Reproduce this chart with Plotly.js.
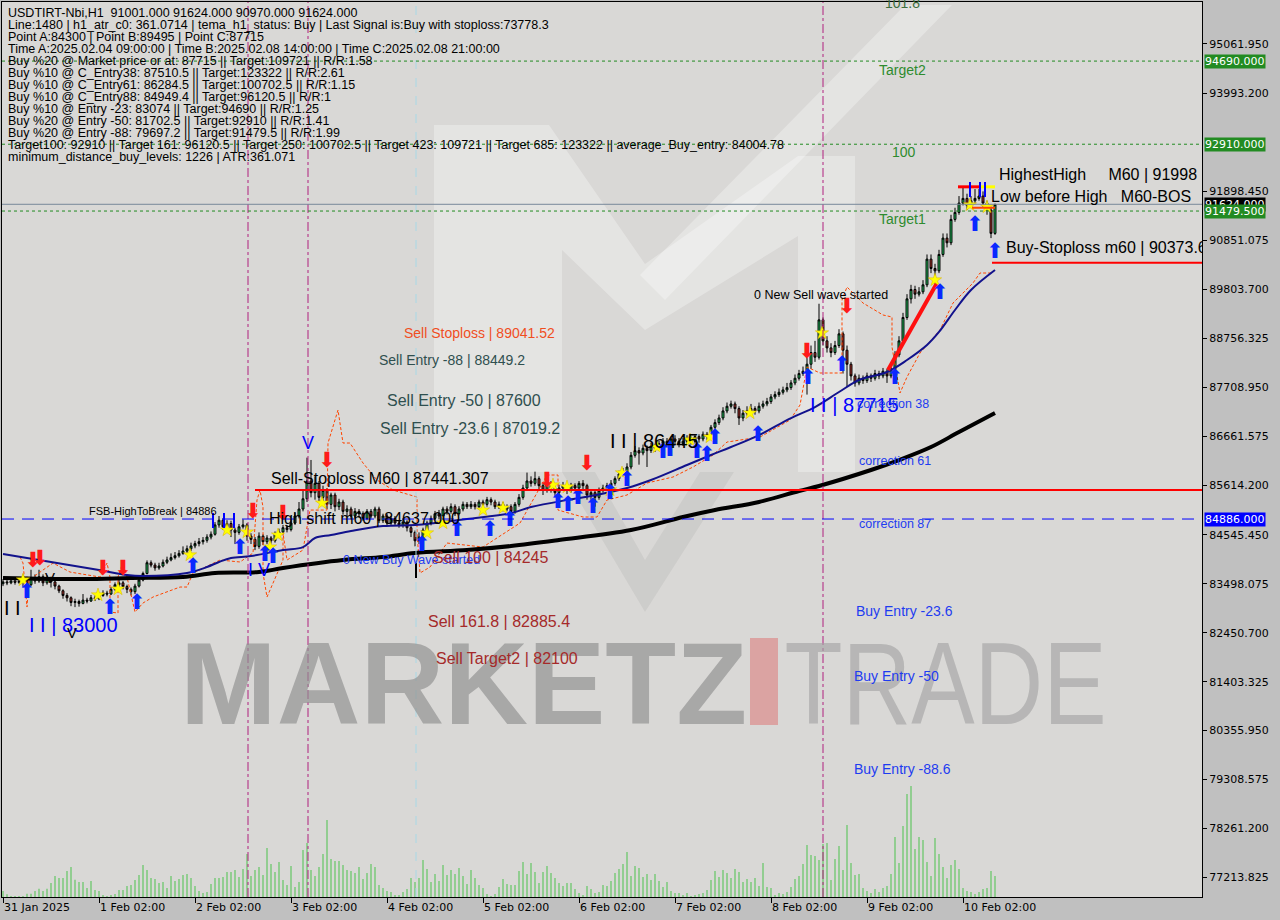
<!DOCTYPE html>
<html><head><meta charset="utf-8">
<script src="https://cdn.plot.ly/plotly-3.0.1.min.js"></script>
<style>body{margin:0;background:#c0c0c0;}#chart{width:1280px;height:920px;}</style>
</head><body><div id="chart"></div>
<script>
// ---------- DATA ----------
const firstOpen = 83500;
const closes = [
83540,83520,83560,83530,83550,83600,83480,83620,83560,83650,
83520,83600,83540,83450,83350,83250,83200,83100,83120,83080,
83150,83130,83200,83180,83250,83300,83280,83380,83480,83520,
83440,83380,83330,83450,83580,83720,83950,83900,83840,83880,
83960,84010,84060,84100,84150,84200,84250,84310,84360,84400,
84430,84500,84560,84760,84860,84720,84790,84650,84600,84720,
84760,84520,84450,84300,84520,84400,84480,84420,84560,84610,
84700,84660,84800,84950,85100,85320,85700,85450,85650,85350,
85500,85200,85400,85150,85250,85050,85100,84950,85050,85000,
84900,85050,84950,85100,84850,84950,84800,84900,84800,84750,
84820,84700,84600,84420,84500,84650,84800,84900,85000,84950,
85100,85050,85150,85000,85100,85200,85150,85200,85150,85250,
85200,85300,85250,85150,85200,85100,85150,85050,85200,85350,
85550,85700,85650,85750,85600,85500,85650,85550,85450,85550,
85600,85500,85600,85550,85650,85600,85400,85450,85350,85500,
85550,85600,85650,85750,85850,85900,86000,86250,86350,86300,
86400,86350,86450,86400,86500,86550,86500,86600,86550,86500,
86550,86600,86550,86650,86600,86700,86650,86850,86950,87050,
87200,87300,87350,87250,87050,87150,87200,87250,87200,87300,
87350,87400,87500,87550,87600,87650,87700,87800,87900,88000,
88050,88200,88450,88350,89150,88700,88550,88450,88600,88850,
88500,88200,87950,87800,87900,87850,87950,87900,88000,87950,
88050,87950,88100,88400,88700,89200,89600,89800,89700,89750,
89900,90450,90250,90200,90550,90900,90800,91300,91450,91650,
91750,91600,91700,91750,91800,91650,91500,91001,91624];
const highs = [
83600,83580,83620,83600,83620,83700,83650,83800,83700,83800,
83700,83680,83650,83580,83480,83380,83300,83230,83180,83160,
83280,83200,83260,83250,83300,83360,83350,83430,83530,83620,
83560,83480,83420,83500,83620,83760,84000,84000,83950,83950,
84020,84080,84150,84180,84220,84300,84320,84380,84420,84480,
84500,84560,84620,84820,84950,84900,84860,84850,84700,84780,
84880,84800,84580,84500,84600,84560,84540,84520,84620,84680,
84760,84750,84880,85020,85250,85500,86200,86150,85800,85700,
85600,85550,85450,85450,85320,85300,85180,85150,85120,85100,
85050,85100,85100,85150,85150,85000,85000,84950,84950,84850,
84880,84860,84740,84640,84600,84700,84850,84960,85060,85080,
85150,85160,85220,85200,85160,85260,85250,85270,85250,85300,
85300,85360,85350,85300,85260,85250,85200,85200,85250,85420,
85620,85880,85800,85900,85800,85650,85720,85700,85600,85620,
85680,85650,85660,85650,85700,85720,85640,85520,85500,85560,
85620,85660,85720,85800,85920,85980,86080,86320,86450,86420,
86480,86460,86520,86500,86560,86620,86620,86650,86680,86620,
86620,86680,86650,86700,86700,86760,86750,86900,87020,87120,
87280,87380,87420,87400,87300,87220,87300,87350,87300,87380,
87420,87480,87560,87620,87680,87720,87800,87860,87980,88080,
88150,88350,88600,88700,89495,89200,88800,88650,88700,88950,
88900,88600,88250,88000,87980,87960,88020,88000,88080,88060,
88120,88100,88200,88480,88800,89300,89700,89900,89880,89850,
90000,90550,90550,90350,90650,91000,91000,91400,91550,91800,
91998,91850,91800,91950,91950,91900,91700,91550,91624];
const lows = [
83450,83470,83490,83480,83500,83420,83350,83450,83500,83520,
83450,83480,83420,83380,83300,83180,83120,83020,83000,83010,
83060,83080,83110,83130,83150,83220,83230,83260,83350,83440,
83380,83300,83250,83280,83420,83550,83700,83850,83780,83800,
83850,83920,83980,84020,84060,84120,84150,84200,84260,84300,
84340,84380,84450,84530,84700,84650,84680,84500,84350,84550,
84680,84420,84350,84220,84250,84330,84350,84360,84380,84500,
84560,84600,84620,84760,84900,85050,85250,85350,85300,85250,
85200,85100,85100,85050,85080,84980,84950,84880,84900,84920,
84850,84860,84900,84900,84800,84800,84750,84760,84750,84700,
84700,84620,84500,84300,84350,84450,84600,84750,84860,84880,
84900,84980,85000,84950,84960,85050,85100,85100,85090,85100,
85140,85150,85180,85100,85100,85050,85050,84980,85000,85150,
85300,85500,85580,85600,85500,85400,85450,85450,85350,85400,
85500,85420,85450,85480,85500,85520,85300,85280,85150,85300,
85450,85500,85560,85600,85700,85800,85850,85950,86200,86050,
86250,86000,86300,86320,86350,86450,86430,86450,86480,86420,
86450,86500,86480,86500,86520,86550,86580,86620,86800,86900,
87000,87150,87250,87150,86900,86980,87100,87150,87120,87150,
87250,87300,87350,87450,87500,87550,87600,87650,87750,87850,
87950,87550,88100,88250,88300,88600,88450,88350,88400,88550,
88000,87715,87850,87720,87750,87780,87800,87820,87850,87880,
87900,87800,87900,88050,88350,88650,89150,89500,89600,89650,
89700,89850,90150,89900,90150,90500,90700,90750,91250,91400,
91600,91500,91550,91650,91700,91550,91400,90900,90970];
const volumes = [
18,8,3,3,3,3,10,10,18,25,18,25,42,63,57,57,78,90,52,45,
45,27,48,21,18,6,3,6,9,21,21,33,36,51,66,96,81,57,54,42,
45,27,63,48,54,66,69,57,33,18,12,15,39,57,57,60,75,75,81,60,
84,129,63,81,90,66,147,99,75,105,51,36,93,30,45,141,162,81,63,90,
129,231,114,108,108,96,81,78,72,90,54,72,99,90,36,27,18,15,6,6,
15,24,57,45,57,111,84,45,69,48,96,66,81,69,87,63,39,81,57,36,
27,9,3,9,30,
54,39,36,36,78,105,69,102,75,42,75,93,72,57,42,33,42,42,24,12,
6,33,24,12,15,36,33,48,72,84,99,135,63,93,87,60,69,51,69,48,
30,45,18,12,12,6,12,3,6,9,12,21,51,78,60,81,72,57,84,75,
45,54,45,57,33,102,30,27,6,12,9,15,30,54,63,99,156,126,123,111,
159,162,51,114,153,81,216,102,66,69,27,18,12,24,15,27,33,69,180,102,
213,309,333,144,180,171,105,63,177,129,90,57,96,111,84,27,18,15,9,15,
24,27,78,63];

const dateTickIdx = [0,24,48,72,96,120,144,168,192,216,240];
const dateTickLabels = ['31 Jan 2025','1 Feb 02:00','2 Feb 02:00','3 Feb 02:00','4 Feb 02:00','5 Feb 02:00','6 Feb 02:00','7 Feb 02:00','8 Feb 02:00','9 Feb 02:00','10 Feb 02:00'];
const priceTicks = [95061.95,93993.2,91898.45,90851.075,89803.7,88756.325,87708.95,86661.575,85614.2,84545.45,83498.075,82450.7,81403.325,80355.95,79308.575,78261.2,77213.825];

// moving averages (sampled)
const blueMaIdx = [0,12,24,31,35,46,51,54,57,62,70,75,78,82,87,95,103,108,116,127,132,141,147,156,162,171,177,182,189,197,203,209,214,221,226,231,234,238,242,248];
const blueMaVal = [84137,83966,83794,83687,83666,83730,83858,83966,84051,84094,84222,84286,84479,84543,84629,84736,84757,84800,84886,85014,85143,85293,85378,85550,85721,86042,86256,86427,86684,87048,87284,87605,87862,88033,88290,88611,88890,89361,89789,90217];
const blackMaIdx = [0,20,32,45,53,64,70,85,95,103,116,127,139,157,170,178,189,199,204,217,224,232,239,248];
const blackMaVal = [83623,83601,83623,83644,83730,83751,83837,84008,84072,84158,84222,84308,84436,84650,84928,85078,85250,85485,85593,85935,86149,86427,86748,87155];
// orange dashed trailing line
const orangeIdx = [4.25,5,6,6.5,10,12.5,16.75,24.25,26,26.75,26.75,28.75,28.75,30,31,33,35,37.5,44.25,46,47.5,54.25,59.25,62.5,63.5,64.25,65,65,66,70,70,71,75,76.75,81,81.25,83.75,85,86.75,90,93.5,97.5,103.5,103.5,104.25,106.75,111,120,129.25,136,138.75,138.75,145,148.5,151,156,161,167.5,172.5,177.5,181,189.25,196.75,199.25,201,204.25,209.75,209.75,211,215,220,222.25,222.25,224.25,226,229.25,234.25,237.5,242.5,244.25,247.5];
const orangeVal = [84072,83944,83002,83580,83794,83944,83751,83644,83944,83644,82895,82873,83644,83966,83644,82895,83088,83216,83430,83430,83730,84008,83966,84158,85293,85507,85143,83730,83216,84008,84586,84008,84222,85078,85078,86513,87219,86513,86513,86085,85721,85507,85357,84586,83730,83858,84372,84286,84800,85828,85828,85078,84929,84929,85293,85400,85657,85785,85999,86256,86534,86641,87005,87327,88140,88012,88012,89575,89853,89510,89254,89211,88568,87584,87926,88440,88932,89510,89939,90153,90153];
// signals
const buyArrowIdx = [6,26.75,33.5,47.5,59.25,65.5,67.5,104.75,113.5,121.75,126.75,138.75,141.25,143.75,147.5,151.75,156,165,166.75,173.5,176,178,188.75,201.25,209.75,223,234.25,243,248];
const buyArrowVal = [83537,83195,83302,84072,84479,84329,84286,84543,84864,84864,85078,85464,85400,85550,85357,85657,85935,86534,86577,86534,86470,86834,86898,88119,88397,88119,89939,91394,90816];
const sellArrowIdx = [7.5,9.25,25,30,62.5,70,81,136,146,201,211];
const sellArrowVal = [83751,83794,83580,83580,84800,84757,85892,85464,85828,88226,89190];
const starIdx = [5,23.75,28.75,46.75,56,61,66.75,68.75,79.75,106,110,120,125,137.5,141,151.75,154.75,163.5,171.75,176.75,186.75,204.75,233,241.75,246];
const starVal = [83580,83259,83387,84115,84650,84607,84286,84543,85228,84586,84800,85078,85121,85614,85571,85507,85871,86427,86577,86641,87155,88868,90003,91609,91566];
const zigzagIdx = [221.25,233.5];
const zigzagVal = [88076,89939];
// levels
const targetLevels = [94690,92910,91479.5];
const currentPrice = 91624;
const fsbLevel = 84886;
const sellStopLevel = 85507;
const buyStopLevel = 90373.6;
const highestHigh = 91998;
const lowBeforeHigh = 91550;
const vLineIdx = [61.25,76.25,205];
const pointAIdx = 103.25;

const headerLines = [
'USDTIRT-Nbi,H1  91001.000 91624.000 90970.000 91624.000',
'Line:1480 | h1_atr_c0: 361.0714 | tema_h1_status: Buy | Last Signal is:Buy with stoploss:73778.3',
'Point A:84300 | Point B:89495 | Point C:87715',
'Time A:2025.02.04 09:00:00 | Time B:2025.02.08 14:00:00 | Time C:2025.02.08 21:00:00',
'Buy %20 @ Market price or at: 87715 || Target:109721 || R/R:1.58',
'Buy %10 @ C_Entry38: 87510.5 || Target:123322 || R/R:2.61',
'Buy %10 @ C_Entry61: 86284.5 || Target:100702.5 || R/R:1.15',
'Buy %10 @ C_Entry88: 84949.4 || Target:96120.5 || R/R:1',
'Buy %10 @ Entry -23: 83074 || Target:94690 || R/R:1.25',
'Buy %20 @ Entry -50: 81702.5 || Target:92910 || R/R:1.41',
'Buy %20 @ Entry -88: 79697.2 || Target:91479.5 || R/R:1.99',
'Target100: 92910 || Target 161: 96120.5 || Target 250: 100702.5 || Target 423: 109721 || Target 685: 123322 || average_Buy_entry: 84004.78',
'minimum_distance_buy_levels: 1226 | ATR:361.071'];

// ---------- BUILD ----------
const idx = closes.map((_, i) => i);
const opens = closes.map((c, i) => i === 0 ? firstOpen : closes[i - 1]);
const PX = x => (x - 2) / 1200;
const PY = y => 1 - (y - 2) / 895;
const FONT = 'Liberation Sans, Arial, sans-serif';
const BLUE = '#1e3cf0';
const GREEN = '#2e8b2e';
const NB = '\u00a0';

const traces = [
  {type:'bar', x: idx, y: volumes, yaxis:'y2', width:0.25, marker:{color:'#4cc24c', line:{width:0}}, hoverinfo:'skip'},
  {type:'candlestick', x: idx, open: opens, high: highs, low: lows, close: closes,
   increasing:{line:{color:'#000000', width:1}, fillcolor:'#22c55e'},
   decreasing:{line:{color:'#000000', width:1}, fillcolor:'#b3322a'},
   whiskerwidth:0, hoverinfo:'skip'},
  {type:'scatter', mode:'lines', x: orangeIdx, y: orangeVal, line:{color:'#ff4500', width:1, dash:'3px,2px'}, hoverinfo:'skip'},
  {type:'scatter', mode:'lines', x: blackMaIdx, y: blackMaVal, line:{color:'#000000', width:4, shape:'spline'}, hoverinfo:'skip'},
  {type:'scatter', mode:'lines', x: blueMaIdx, y: blueMaVal, line:{color:'#12128c', width:2, shape:'spline'}, hoverinfo:'skip'},
  {type:'scatter', mode:'lines', x: zigzagIdx, y: zigzagVal, line:{color:'#ff1010', width:4}, hoverinfo:'skip'},
  {type:'scatter', mode:'markers', x: starIdx, y: starVal, marker:{symbol:'star', size:10, color:'#ffff00', line:{color:'#d8b000', width:0.5}}, hoverinfo:'skip'},
  {type:'scatter', mode:'text', x: buyArrowIdx, y: buyArrowVal, text: buyArrowIdx.map(()=>'\u2B06'), textposition:'bottom center', textfont:{family:'DejaVu Sans', size:21, color:'#0a28ff'}, hoverinfo:'skip'},
  {type:'scatter', mode:'text', x: sellArrowIdx, y: sellArrowVal, text: sellArrowIdx.map(()=>'\u2B07'), textposition:'top center', textfont:{family:'DejaVu Sans', size:21, color:'#ff1a1a'}, hoverinfo:'skip'},
  {type:'scatter', mode:'text', x:[250.75], y:[buyStopLevel + 293], text:['Buy-Stoploss m60 | 90373.6'], textposition:'middle right', cliponaxis:true, textfont:{family:FONT, size:16, color:'#000000'}, hoverinfo:'skip'}
];

const shapes = [];
function pathPx(pts){ return 'M' + pts.map(p => PX(p[0]) + ',' + PY(p[1])).join('L') + 'Z'; }
// background logo (decorative)
shapes.push({type:'path', xref:'paper', yref:'paper', layer:'below', line:{width:0}, fillcolor:'rgba(255,255,255,0.30)',
  path: pathPx([[434,125],[549,125],[645,264],[798,156],[855,156],[855,472],[798,472],[798,236],[645,330],[562,250],[562,472],[434,472]])});
shapes.push({type:'path', xref:'paper', yref:'paper', layer:'below', line:{width:0}, fillcolor:'rgba(255,255,255,0.30)',
  path: pathPx([[905,5],[952,5],[665,300],[640,275]])});
shapes.push({type:'path', xref:'paper', yref:'paper', layer:'below', line:{width:0}, fillcolor:'rgba(0,0,0,0.05)',
  path: pathPx([[562,472],[645,612],[734,472],[700,472],[645,560],[595,472]])});
// red "I" in watermark
shapes.push({type:'rect', xref:'paper', yref:'paper', layer:'below', line:{width:0}, fillcolor:'rgba(222,110,110,0.5)',
  x0:PX(750), x1:PX(778), y0:PY(725), y1:PY(638)});
// vertical lines
vLineIdx.forEach(v => shapes.push({type:'line', xref:'x', yref:'paper', x0:v, x1:v, y0:0, y1:1, line:{color:'#b0207f', width:1, dash:'dashdot'}}));
shapes.push({type:'line', xref:'x', yref:'paper', x0:pointAIdx, x1:pointAIdx, y0:0, y1:1, line:{color:'#a8d8e6', width:1, dash:'dash'}});
// horizontal levels
targetLevels.forEach(v => shapes.push({type:'line', xref:'paper', yref:'y', x0:0, x1:1, y0:v, y1:v, line:{color:'#228b22', width:1, dash:'3px,3px'}}));
shapes.push({type:'line', xref:'paper', yref:'y', x0:0, x1:1, y0:currentPrice, y1:currentPrice, line:{color:'#778899', width:1}});
shapes.push({type:'line', xref:'paper', yref:'y', x0:0, x1:1, y0:fsbLevel, y1:fsbLevel, line:{color:'#0000ff', width:1, dash:'12px,8px'}});
shapes.push({type:'line', xref:'x', yref:'y', x0:63, x1:299.75, y0:sellStopLevel, y1:sellStopLevel, line:{color:'#ff0000', width:2}});
shapes.push({type:'line', xref:'x', yref:'y', x0:247.25, x1:299.75, y0:buyStopLevel, y1:buyStopLevel, line:{color:'#ff0000', width:2}});
shapes.push({type:'line', xref:'x', yref:'y', x0:238.75, x1:244.25, y0:highestHigh, y1:highestHigh, line:{color:'#ff0000', width:3}});
shapes.push({type:'line', xref:'x', yref:'y', x0:244.25, x1:248, y0:highestHigh, y1:highestHigh, line:{color:'#ffff00', width:3}});
shapes.push({type:'line', xref:'x', yref:'y', x0:242.25, x1:248, y0:lowBeforeHigh, y1:lowBeforeHigh, line:{color:'#ff4500', width:2}});
// small markers
shapes.push({type:'line', xref:'x', yref:'y', x0:pointAIdx, x1:pointAIdx, y0:83944, y1:83623, line:{color:'#000', width:2}});
[52.5,55.25,57.75].forEach(v => shapes.push({type:'line', xref:'x', yref:'y', x0:v, x1:v, y0:85014, y1:84693, line:{color:'#0000ff', width:2}}));
[241.75,244.25,245.5].forEach(v => shapes.push({type:'line', xref:'x', yref:'y', x0:v, x1:v, y0:92101, y1:91780, line:{color:'#0000ff', width:2}}));

const ann = [];
function A(x, y, text, size, color, extra){
  ann.push(Object.assign({xref:'paper', yref:'paper', x:PX(x), y:PY(y), text:text, showarrow:false,
    xanchor:'left', yanchor:'middle', font:{family:FONT, size:size, color:color}}, extra || {}));
}
// watermark
A(178, 684, '<b>MARKETZ</b>', 116, 'rgba(145,145,145,0.68)');
A(945, 684, 'TRADE', 116, 'rgba(165,165,165,0.65)', {xanchor:'center'});
// header
headerLines.forEach((t, k) => A(6, 12.7 + 12.05 * k, t, 12.5, '#000000'));
// labels
A(883, 3, '101.8', 14, '#3c6e3c');
A(877, 70, 'Target2', 14, GREEN);
A(890, 152, '100', 14, GREEN);
A(877, 219, 'Target1', 14, GREEN);
A(997, 174, 'HighestHigh' + NB+NB+NB+NB+NB + 'M60 | 91998', 16, '#000');
A(989, 197, 'Low before High' + NB+NB+NB + 'M60-BOS', 16, '#000');
A(752, 295, '0 New Sell wave started', 12.5, '#000');
A(402, 333, 'Sell Stoploss | 89041.52', 14, '#f04e1e');
A(377, 360, 'Sell Entry -88 | 88449.2', 14, '#2f4f4f');
A(385, 401, 'Sell Entry -50 | 87600', 16, '#2f4f4f');
A(378, 428, 'Sell Entry -23.6 | 87019.2', 16, '#2f4f4f');
A(608, 441, 'I I | 86445', 20, '#000');
A(808, 405, 'I I | 87715', 20, '#0000ff');
A(855, 404, 'correction 38', 12.5, BLUE);
A(269, 478, 'Sell-Stoploss M60 | 87441.307', 16, '#000');
A(857, 461, 'correction 61', 12.5, BLUE);
A(87, 511, 'FSB-HighToBreak | 84886', 11, '#000');
A(267, 518, 'High shift m60 | 84637.000', 16, '#000');
A(857, 524, 'correction 87', 12.5, BLUE);
A(341, 560, '0 New Buy Wave started', 12.5, BLUE);
A(431, 557, 'Sell 100 | 84245', 16, '#a52a2a');
A(426, 621, 'Sell 161.8 | 82885.4', 16, '#a52a2a');
A(434, 658, 'Sell Target2 | 82100', 16, '#a52a2a');
A(854, 611, 'Buy Entry -23.6', 14, BLUE);
A(852, 676, 'Buy Entry -50', 14, BLUE);
A(852, 769, 'Buy Entry -88.6', 14, BLUE);
A(27, 625, 'I I | 83000', 20, '#0000ff');
A(2, 608, 'I I', 20, '#000');
A(300, 443, 'V', 18, '#0000ff');
A(246, 570, 'I V', 18, '#0000ff');
A(43, 577, 'V', 15, '#000');
A(65, 632, 'V', 15, '#000');
// right axis highlight labels
function R(v, bg){
  ann.push({xref:'paper', yref:'y', x:1, y:v, xanchor:'left', yanchor:'middle', xshift:2, showarrow:false,
    text:v.toFixed(3), bgcolor:bg, borderpad:0, font:{family:'DejaVu Sans', size:11, color:'#ffffff'}});
}
R(currentPrice, '#000000');
targetLevels.forEach(v => R(v, '#228b22'));
R(fsbLevel, '#0000ff');
// date labels
dateTickIdx.forEach((v, k) => ann.push({xref:'x', yref:'paper', x:v, y:0, xanchor:'left', yanchor:'top', yshift:-2, xshift:-1,
  showarrow:false, text:dateTickLabels[k], font:{family:'DejaVu Sans', size:11, color:'#000'}}));

const layout = {
  width:1280, height:920,
  margin:{l:2, r:78, t:2, b:23, pad:0},
  paper_bgcolor:'#c0c0c0', plot_bgcolor:'#d9d8d6',
  showlegend:false, hovermode:false,
  xaxis:{range:[-0.25, 299.75], showgrid:false, zeroline:false, rangeslider:{visible:false},
    tickvals:dateTickIdx, ticks:'outside', ticklen:5, tickcolor:'#000', showticklabels:false,
    showline:true, linecolor:'#000', linewidth:1, mirror:true},
  yaxis:{range:[76793.9, 95954.8], side:'right', showgrid:false, zeroline:false,
    tickvals:priceTicks, ticktext:priceTicks.map(v => v.toFixed(3)), ticks:'outside', ticklen:4, tickcolor:'#000',
    tickfont:{family:'DejaVu Sans', size:11, color:'#000'},
    showline:true, linecolor:'#000', linewidth:1, mirror:true},
  yaxis2:{overlaying:'y', range:[0, 2685], visible:false, fixedrange:true},
  shapes:shapes, annotations:ann
};
Plotly.newPlot('chart', traces, layout, {staticPlot:true, displayModeBar:false}).then(() => {
  // condense the watermark word "TRADE" to the thin, narrow lettering of the original logo
  document.querySelectorAll('.annotation-text').forEach(el => {
    if (el.textContent === 'TRADE') {
      el.setAttribute('textLength', '322');
      el.setAttribute('lengthAdjust', 'spacingAndGlyphs');
    }
  });
});
</script></body></html>
